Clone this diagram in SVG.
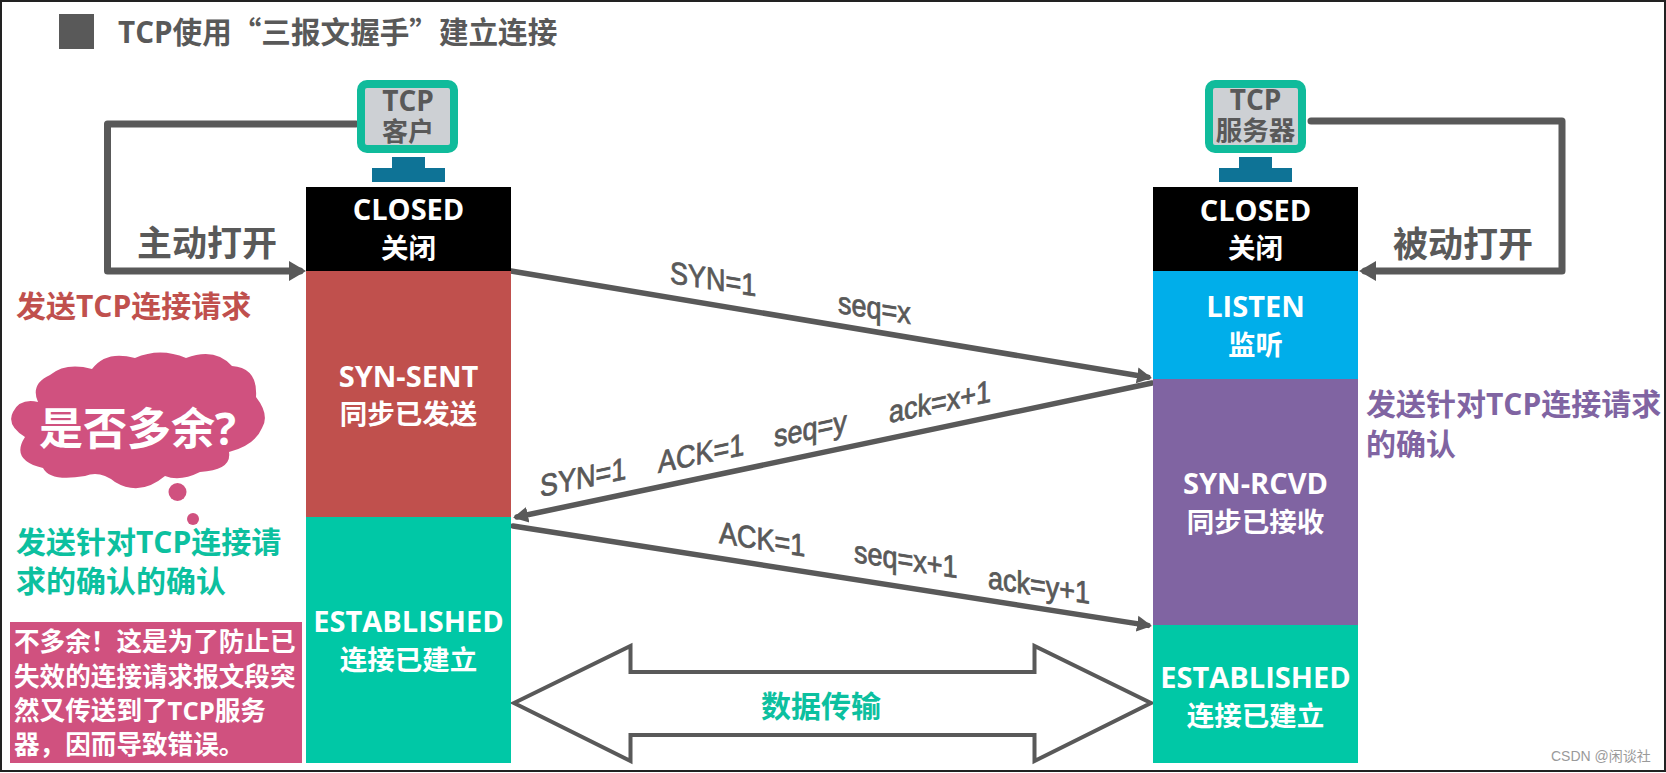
<svg xmlns="http://www.w3.org/2000/svg" width="1666" height="773" viewBox="0 0 1666 773">
<defs>
<style>
text{font-family:"Open Sans","Noto Sans CJK SC",sans-serif;font-weight:700}
.m{text-anchor:middle}
.w{fill:#fff}
.g{fill:#595959}
.t{font-size:29px}
.c{font-size:27.5px}
.l{font-family:"Liberation Sans","Noto Sans CJK SC",sans-serif;font-weight:400;font-size:31px;fill:#595959;stroke:#595959;stroke-width:.8px}
.n{font-size:30px}
.p{font-size:25.6px;fill:#fff}
.f{font-family:"Noto Sans CJK SC",sans-serif}
.line{fill:none;stroke:#595959;stroke-width:5.500;stroke-linejoin:round;stroke-linecap:round}
.elbow{stroke-width:7}
.ds{fill:#fff;stroke:#595959;stroke-width:4;stroke-linejoin:miter}
.scr{fill:#cdd0d4;stroke:#10bb9b;stroke-width:8}
.st{fill:#0e7396}
</style>
<marker id="big" markerUnits="userSpaceOnUse" markerWidth="18" markerHeight="22" refX="11" refY="11" orient="auto"><path d="M0 1L17 11L0 21Z" fill="#595959"/></marker>
<marker id="sm" markerUnits="userSpaceOnUse" markerWidth="15" markerHeight="18" refX="11" refY="9" orient="auto"><path d="M0 1L15 9L0 17Z" fill="#595959"/></marker>
</defs>
<rect x="1" y="1" width="1664" height="770" fill="#fff" stroke="#222" stroke-width="2"/>
<g id="title">
<rect x="59" y="14" width="35" height="35" fill="#595959"/>
<text x="118" y="43" font-size="29.600" class="g">TCP使用<tspan class="f">&#x201C;</tspan>三报文握手<tspan class="f">&#x201D;</tspan>建立连接</text>
</g>
<g id="connectors">
<path class="line elbow" d="M356 124H107.500V271H300" marker-end="url(#big)"/>
<path class="line elbow" d="M1311 121H1562V271H1365" marker-end="url(#big)"/>
<path class="line" d="M511 271L1148 377.300" marker-end="url(#sm)"/>
<path class="line" d="M1152 383L517 517" marker-end="url(#sm)"/>
<path class="line" d="M513 526L1148 625.400" marker-end="url(#sm)"/>
<path class="ds" d="M514 703L630.500 646V672H1034.500V646L1151 703L1034.500 761V735H630.500V761Z"/>
</g>
<g id="client-monitor">
<rect class="scr" x="361" y="84" width="93" height="65" rx="6"/>
<path class="st" d="M392 157H425V168H445V182H372V168H392Z"/>
<text class="m g" font-size="28"><tspan x="408" y="111">TCP</tspan><tspan x="408" y="141" font-size="26">客户</tspan></text>
</g>
<g id="server-monitor">
<rect class="scr" x="1209" y="84" width="93" height="65" rx="6"/>
<path class="st" d="M1239 157H1272V168H1292V182H1219V168H1239Z"/>
<text class="m g" font-size="28"><tspan x="1255.500" y="110">TCP</tspan><tspan x="1255.500" y="140" font-size="26.500">服务器</tspan></text>
</g>
<g id="client-closed">
<rect x="306" y="187" width="205" height="84" fill="#000"/>
<text class="m w t" x="408.500" y="220">CLOSED</text>
<text class="m w c" x="408.500" y="258">关闭</text>
</g>
<g id="client-syn-sent">
<rect x="306" y="271" width="205" height="246" fill="#c0504d"/>
<text class="m w t" x="408.500" y="387">SYN-SENT</text>
<text class="m w c" x="408.500" y="424">同步已发送</text>
</g>
<g id="client-established">
<rect x="306" y="517" width="205" height="246" fill="#00c8a6"/>
<text class="m w t" x="408.500" y="632">ESTABLISHED</text>
<text class="m w c" x="408.500" y="670">连接已建立</text>
</g>
<g id="server-closed">
<rect x="1153" y="187" width="205" height="84" fill="#000"/>
<text class="m w t" x="1255.500" y="221">CLOSED</text>
<text class="m w c" x="1255.500" y="258">关闭</text>
</g>
<g id="server-listen">
<rect x="1153" y="271" width="205" height="108" fill="#00aeea"/>
<text class="m w t" x="1255.500" y="317">LISTEN</text>
<text class="m w c" x="1255.500" y="355">监听</text>
</g>
<g id="server-syn-rcvd">
<rect x="1153" y="379" width="205" height="246" fill="#8064a2"/>
<text class="m w t" x="1255.500" y="494">SYN-RCVD</text>
<text class="m w c" x="1255.500" y="532">同步已接收</text>
</g>
<g id="server-established">
<rect x="1153" y="625" width="205" height="138" fill="#00c8a6"/>
<text class="m w t" x="1255.500" y="688">ESTABLISHED</text>
<text class="m w c" x="1255.500" y="726">连接已建立</text>
</g>
<g id="labels">
<text class="g" x="137" y="256" font-size="35">主动打开</text>
<text class="g" x="1393" y="257" font-size="35">被动打开</text>
<text class="n" x="16" y="317" fill="#c0504d">发送TCP连接请求</text>
<text class="n" x="16" y="553" fill="#0cc09f">发送针对TCP连接请</text>
<text class="n" x="16" y="592" fill="#0cc09f">求的确认的确认</text>
<text class="n" x="1366" y="415" fill="#8064a2">发送针对TCP连接请求</text>
<text class="n" x="1366" y="455" fill="#8064a2">的确认</text>
<text class="n m" x="821" y="717" font-size="30.500" fill="#0cc09f">数据传输</text>
<text x="1551" y="761" font-size="14" fill="#9a9a9a" style="font-family:'Liberation Sans','Noto Sans CJK SC',sans-serif;font-weight:400">CSDN @闲谈社</text>
</g>
<g id="message-labels">
<text class="l" transform="translate(670 283) skewY(8.700) scale(.87 1)">SYN=1</text>
<text class="l" transform="translate(838 313) skewY(8.700) scale(.87 1)">seq=x</text>
<text class="l" transform="translate(540 497) skewY(-11.900) scale(.87 1)">SYN=1</text>
<text class="l" transform="translate(658 473) skewY(-11.900) scale(.87 1)">ACK=1</text>
<text class="l" transform="translate(774 447) skewY(-11.900) scale(.87 1)">seq=y</text>
<text class="l" transform="translate(889 423) skewY(-11.900) scale(.87 1)">ack=x+1</text>
<text class="l" transform="translate(719 543) skewY(8.900) scale(.87 1)">ACK=1</text>
<text class="l" transform="translate(854 562) skewY(8.900) scale(.87 1)">seq=x+1</text>
<text class="l" transform="translate(988 588) skewY(8.900) scale(.87 1)">ack=y+1</text>
</g>
<g id="thought-cloud">
<path fill="#d0517f" d="M25 437Q6 425 13 412Q20 398 38 402Q30 384 50 375Q66 362 92 369Q106 350 135 358Q160 347 186 358Q215 347 232 366Q258 368 256 397Q270 415 262 428Q255 445 229 452Q232 470 200 472Q180 482 165 476Q140 497 115 482Q100 470 85 476Q50 482 43 468Q10 460 25 437Z"/>
<circle cx="177.500" cy="492" r="9" fill="#d0517f"/>
<circle cx="193" cy="519" r="6" fill="#d0517f"/>
<text class="w" x="39" y="445" font-size="44">是否多余?</text>
</g>
<g id="note">
<rect x="10" y="622" width="292" height="141" fill="#d0517f"/>
<text class="p" x="14" y="651">不多余&#xFF01;这是为了防止已</text>
<text class="p" x="14" y="686">失效的连接请求报文段突</text>
<text class="p" x="14" y="720">然又传送到了TCP服务</text>
<text class="p" x="14" y="754">器&#xFF0C;因而导致错误。</text>
</g>
</svg>
